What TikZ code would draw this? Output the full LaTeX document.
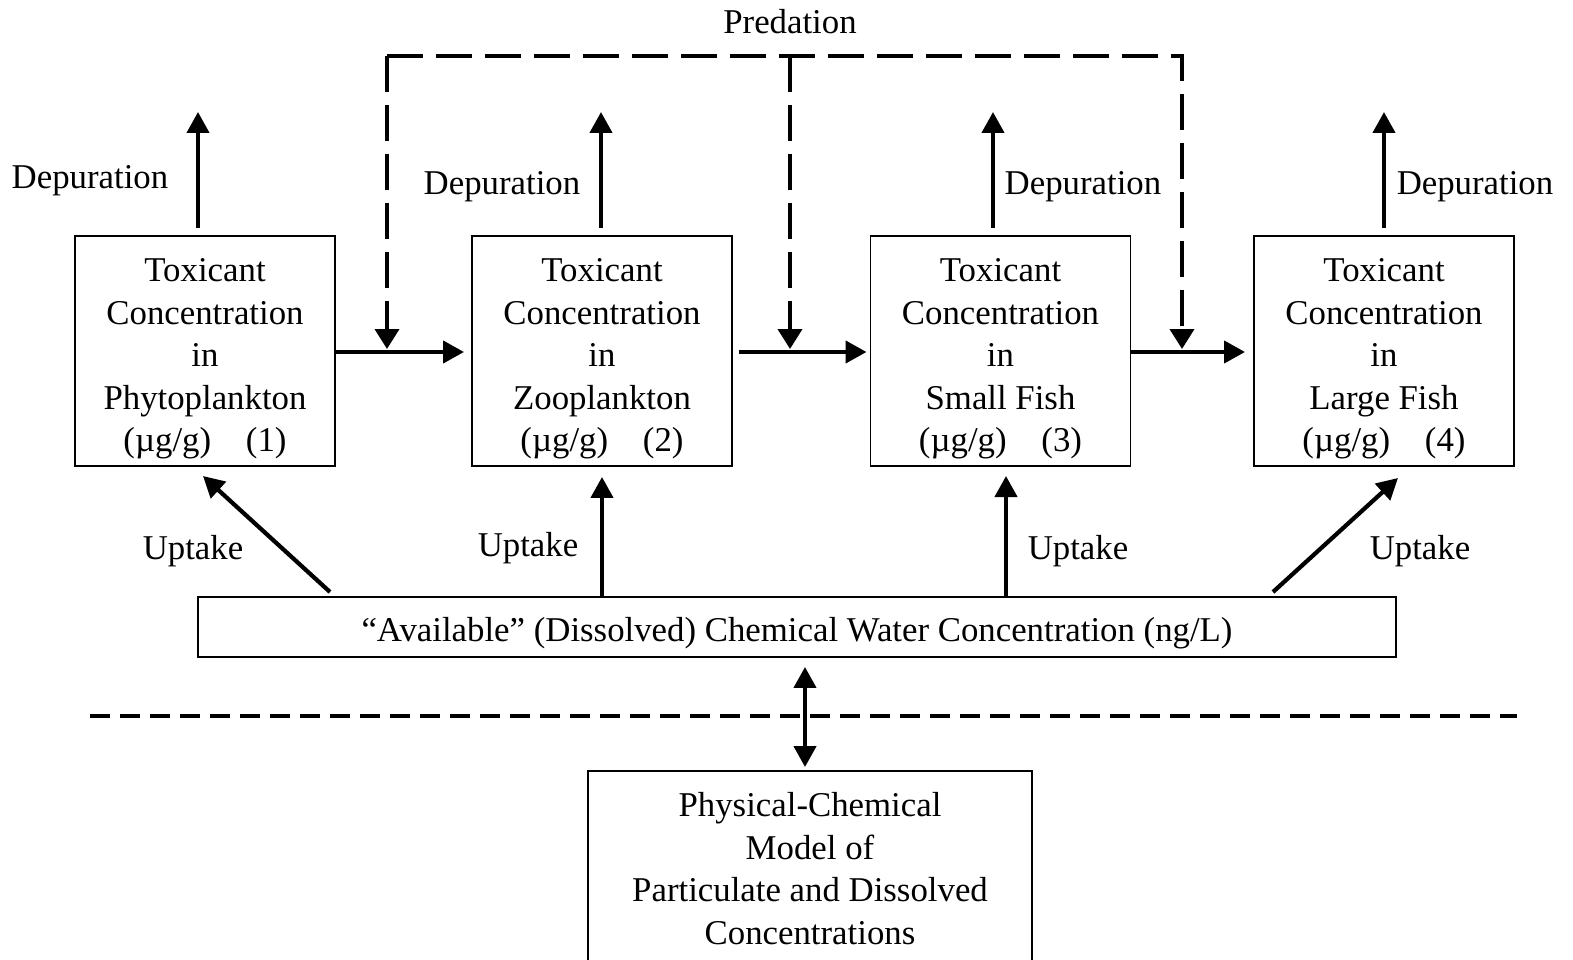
\documentclass[tikz,border=0pt]{standalone}
\usepackage{fontspec}
\setmainfont{Liberation Serif}
\usetikzlibrary{arrows.meta}

\begin{document}
\begin{tikzpicture}[
    font=\fontsize{19.8}{24.2}\selectfont,
    box/.style={draw, line width=1.1pt, align=center, inner sep=0pt},
    conc/.style={box, minimum width=5.2cm, minimum height=4.6cm},
    flow/.style={line width=2.4pt, -{Triangle[length=0.42cm,width=0.44cm]}},
    pred/.style={line width=2.2pt, dash pattern=on 0.72cm off 0.26cm,
      -{Triangle[length=0.4cm,width=0.48cm]}},
    sep/.style={line width=1.8pt, dash pattern=on 0.4cm off 0.2cm}
  ]
    \useasboundingbox (0,0) rectangle (31.46,-19.2);

    % trophic compartments
    \node[conc] (phyto) at (4.1,-7.02) {\rule{0pt}{0.78cm}Toxicant\\Concentration\\in\\Phytoplankton\\(µg/g)\quad(1)};
    \node[conc] (zoo) at (12.04,-7.02) {\rule{0pt}{0.78cm}Toxicant\\Concentration\\in\\Zooplankton\\(µg/g)\quad(2)};
    \node[conc] (small) at (20.01,-7.02) {\rule{0pt}{0.78cm}Toxicant\\Concentration\\in\\Small Fish\\(µg/g)\quad(3)};
    \node[conc] (large) at (27.68,-7.02) {\rule{0pt}{0.78cm}Toxicant\\Concentration\\in\\Large Fish\\(µg/g)\quad(4)};

    % water and sediment model
    \node[box, minimum width=23.96cm, minimum height=1.2cm] (water) at (15.94,-12.54)
      {\rule{0pt}{0.72cm}``Available'' (Dissolved) Chemical Water Concentration (ng/L)};
    \node[box, minimum width=8.88cm, minimum height=3.84cm] (model) at (16.2,-17.34)
      {\rule{0pt}{0.55cm}Physical-Chemical\\Model of\\Particulate and Dissolved\\Concentrations};

    % food chain transfer
    \draw[flow, shorten >=0.14cm] (phyto.east |- 0,-7.04) -- (zoo.west |- 0,-7.04);
    \draw[flow, shorten <=0.12cm, shorten >=0.06cm] (zoo.east |- 0,-7.04) -- (small.west |- 0,-7.04);
    \draw[flow, shorten >=0.16cm] (small.east |- 0,-7.04) -- (large.west |- 0,-7.04);

    % depuration
    \coordinate (d1) at (3.96,-2.24);
    \coordinate (d2) at (12.02,-2.24);
    \coordinate (d3) at (19.86,-2.24);
    \coordinate (d4) at (27.68,-2.24);
    \draw[flow] (d1 |- 0,-4.56) -- (d1);
    \draw[flow] (d2 |- 0,-4.56) -- (d2);
    \draw[flow] (d3 |- 0,-4.56) -- (d3);
    \draw[flow] (d4 |- 0,-4.56) -- (d4);
    \node (dep1) at (1.8,-3.62) {Depuration};
    \node (dep2) at (10.04,-3.74) {Depuration};
    \node (dep3) at (21.66,-3.74) {Depuration};
    \node (dep4) at (29.5,-3.74) {Depuration};

    % predation
    \coordinate (top) at (15.8,-1.12);
    \coordinate (m1) at (7.74,-6.98);
    \coordinate (m2) at (15.8,-6.98);
    \coordinate (m3) at (23.64,-6.98);
    \draw[pred] (m1 |- top) -- (m1);
    \draw[pred] (m2 |- top) -- (m2);
    \draw[pred] (m1 |- top) -- (m3 |- top) -- (m3);
    \node (predation) at (15.8,-0.44) {Predation};

    % uptake
    \coordinate (u1) at (6.6,-11.84);
    \coordinate (u4) at (25.46,-11.84);
    \coordinate (t1) at (4.06,-9.52);
    \coordinate (t4) at (27.96,-9.56);
    \draw[flow] (u1) -- (t1);
    \draw[flow, shorten >=0.2cm] (water.north -| zoo.south) -- (zoo.south);
    \draw[flow, shorten >=0.2cm] (water.north -| 20.12,0) -- (20.12,-9.32);
    \draw[flow] (u4) -- (t4);
    \node (up1) at (3.86,-11.02) {Uptake};
    \node (up2) at (10.56,-10.96) {Uptake};
    \node (up3) at (21.56,-11.02) {Uptake};
    \node (up4) at (28.4,-11.02) {Uptake};

    % exchange with the physical-chemical model
    \draw[sep] (1.8,-14.32) -- (30.34,-14.32);
    \draw[line width=2.4pt, {Triangle[length=0.42cm,width=0.44cm]}-{Triangle[length=0.42cm,width=0.44cm]},
      shorten <=0.18cm, shorten >=0.06cm] (water.south -| 16.1,0) -- (model.north -| 16.1,0);
\end{tikzpicture}
\end{document}
